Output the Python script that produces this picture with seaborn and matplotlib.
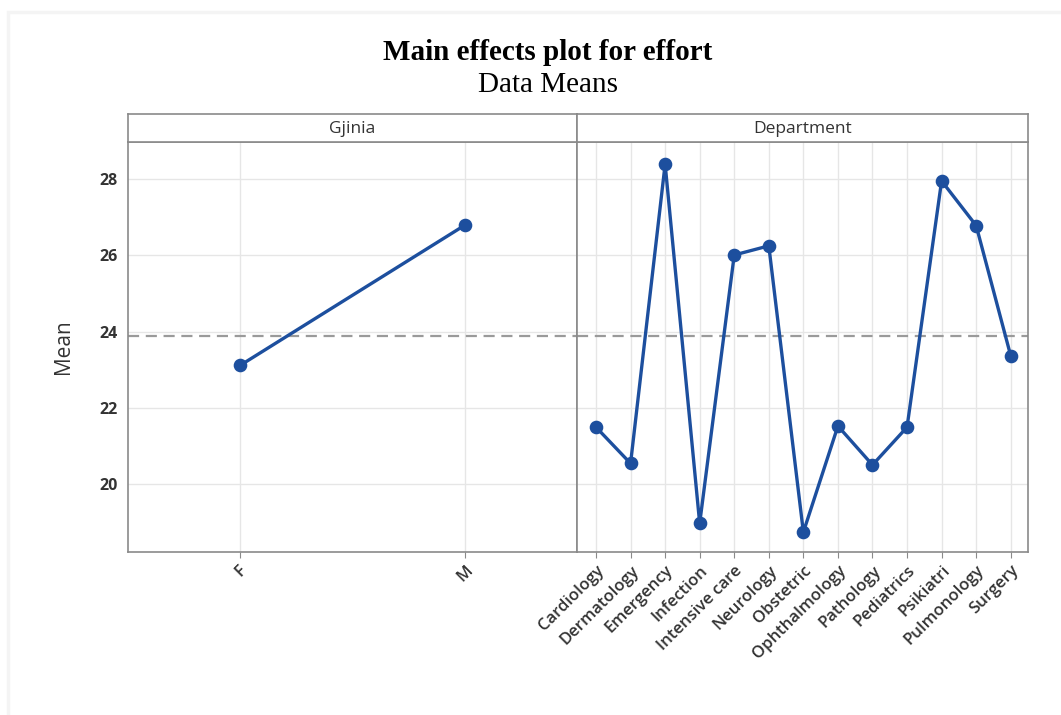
import numpy as np
import pandas as pd
import seaborn as sns
import matplotlib.pyplot as plt
from matplotlib.patches import Rectangle

sns.set_style("white")
plt.rcParams["font.family"] = ["Open Sans", "DejaVu Sans"]

# values
gender = ["F", "M"]
gender_mean = [23.12, 26.79]

departments = [
    "Cardiology", "Dermatology", "Emergency", "Infection", "Intensive care",
    "Neurology", "Obstetric", "Ophthalmology", "Pathology", "Pediatrics",
    "Psikiatri", "Pulmonology", "Surgery",
]
department_mean = [21.50, 20.55, 28.39, 18.98, 26.01, 26.25, 18.75,
                   21.53, 20.51, 21.50, 27.95, 26.78, 23.37]

grand_mean = 23.9
y_ticks = [20, 22, 24, 26, 28]

line_color = "#1D4F9E"
spine_color = "#8a8a8a"
grid_color = "#e6e6e6"
text_color = "#333333"

fig = plt.figure(figsize=(10.61, 7.15), dpi=100)

# faint frame of the original screenshot
fig.patches.append(Rectangle((8 / 1061, -0.1), 1.2, 1 - 12 / 715 + 0.1,
                             transform=fig.transFigure, fill=False,
                             edgecolor="#f4f4f4", lw=2.5, zorder=0))

left, right = 128 / 1061, 1028 / 1061
bottom, top = 1 - 552 / 715, 1 - 142 / 715
mid = 577 / 1061
strip_h = 28 / 715

ax1 = fig.add_axes([left, bottom, mid - left, top - bottom])
ax2 = fig.add_axes([mid, bottom, right - mid, top - bottom], sharey=ax1)

panels = [
    (ax1, gender, gender_mean, "Gjinia", (-0.5, 1.5)),
    (ax2, departments, department_mean, "Department", (-0.55, 12.5)),
]

for ax, cats, vals, title, xlim in panels:
    df = pd.DataFrame({"level": cats, "mean": vals})
    for x in range(len(cats)):
        ax.axvline(x, color=grid_color, lw=1, zorder=0)
    for y in y_ticks:
        ax.axhline(y, color=grid_color, lw=1, zorder=0)
    ax.axhline(grand_mean, color="#9a9a9a", lw=1.6, ls=(0, (5, 3)), zorder=1)
    sns.pointplot(data=df, x="level", y="mean", order=cats, color=line_color,
                  markers="o", markersize=8, linewidth=2.4, errorbar=None, ax=ax)
    ax.set_xlim(*xlim)
    ax.set_xlabel("")
    ax.set_ylabel("")
    for s in ax.spines.values():
        s.set_color(spine_color)
        s.set_linewidth(1.2)
    ax.tick_params(axis="both", length=4, color=spine_color, direction="out",
                   labelcolor=text_color, bottom=True)
    ax.set_xticks(range(len(cats)))
    if len(cats) > 2:
        ax.set_xticklabels(cats, rotation=45, ha="right", rotation_mode="anchor",
                           fontsize=12, fontweight="semibold", color=text_color)
    else:
        ax.set_xticklabels(cats, rotation=45, ha="center", va="top",
                           fontsize=12, fontweight="semibold", color=text_color)

    # strip header above each panel
    pos = ax.get_position()
    sax = fig.add_axes([pos.x0, pos.y1, pos.width, strip_h])
    sax.set_xticks([])
    sax.set_yticks([])
    for s in sax.spines.values():
        s.set_color(spine_color)
        s.set_linewidth(1.2)
    sax.text(0.5, 0.45, title, ha="center", va="center", fontsize=12.5,
             color=text_color, transform=sax.transAxes)

ax1.set_ylim(18.23, 28.97)
ax1.set_yticks(y_ticks)
ax1.set_yticklabels([str(t) for t in y_ticks], fontsize=11.5,
                    fontweight="bold", color=text_color)
ax1.set_ylabel("Mean", fontsize=15, color=text_color, labelpad=18)
ax2.tick_params(axis="y", left=False, labelleft=False)

serif = ["Liberation Serif", "DejaVu Serif"]
title_x = 548 / 1061
fig.text(title_x, 1 - 52 / 715, "Main effects plot for effort", ha="center",
         va="center", fontsize=21, fontweight="bold", color="black", family=serif)
fig.text(title_x, 1 - 85 / 715, "Data Means", ha="center", va="center",
         fontsize=21, color="black", family=serif)

fig.savefig("out.png", dpi=100)
